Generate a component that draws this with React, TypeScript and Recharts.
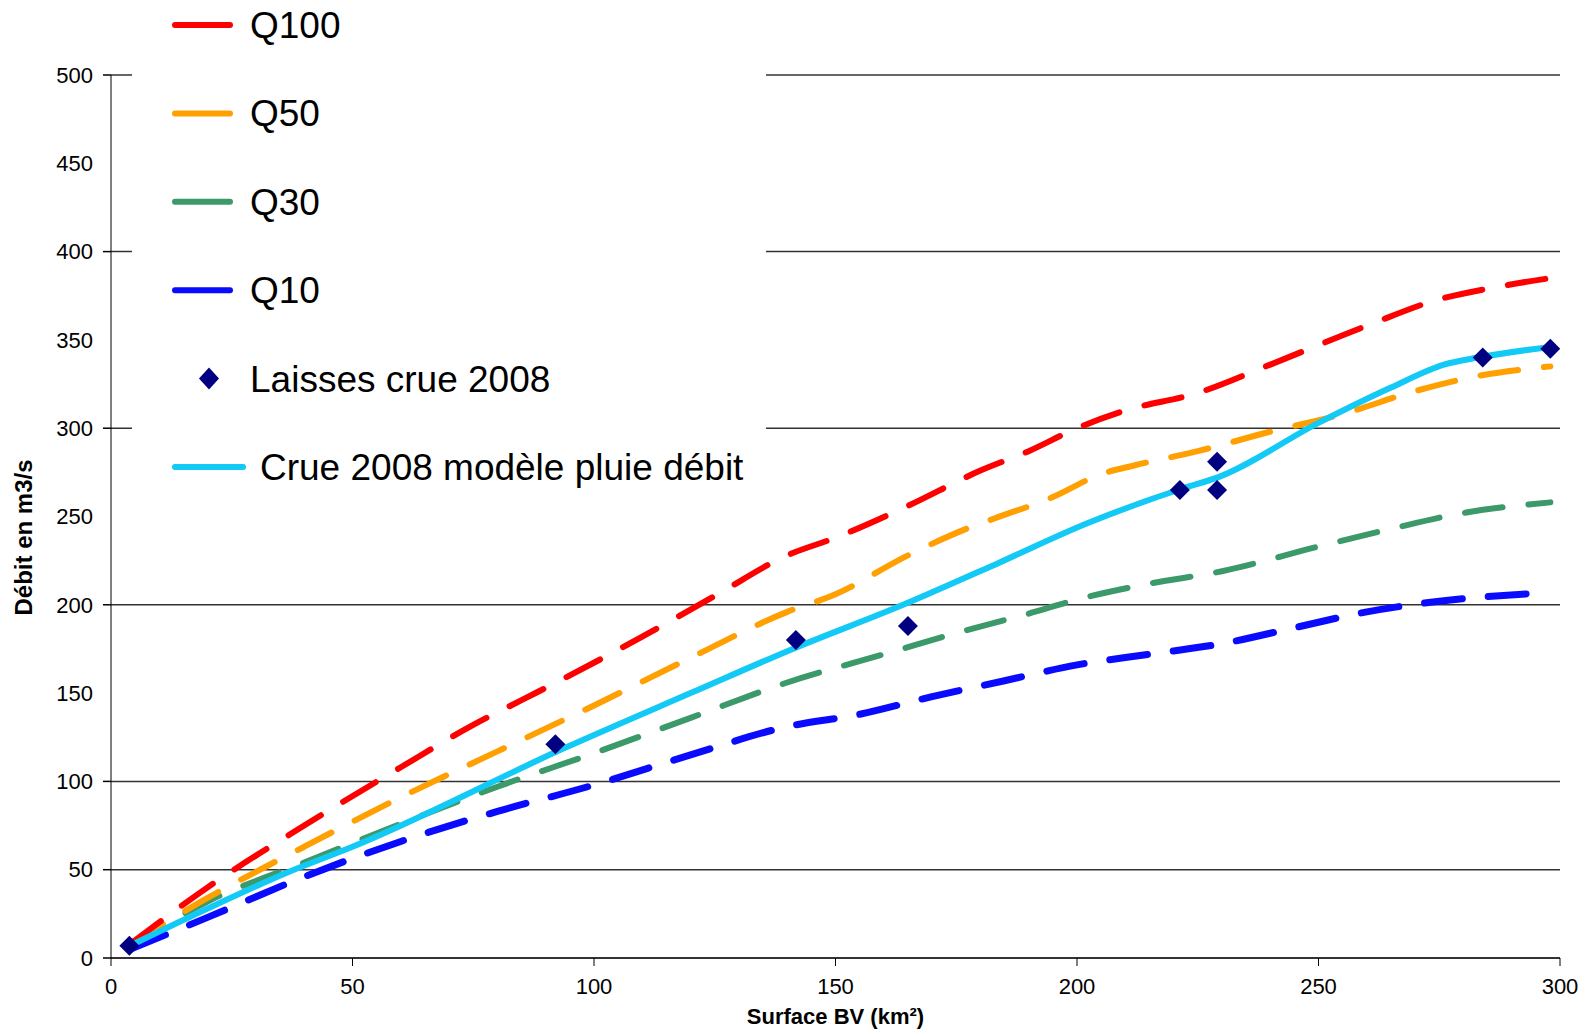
import React from "react"
import { ComposedChart, Line, Scatter, XAxis, YAxis, ReferenceLine, Legend } from "recharts"

type Pt = { x: number; y: number }
const pts = (rows: number[][]): Pt[] => rows.map(([x, y]) => ({ x, y }))

// values (surface km², débit m3/s)
const q100 = pts([
  [4, 8], [20, 40], [40, 75], [60, 108], [75, 132], [85, 146], [95, 160], [110, 182],
  [125, 205], [140, 228], [150, 238], [165, 256], [180, 276], [190, 287], [200, 300],
  [210, 310], [225, 320], [240, 336], [260, 358], [275, 373], [285, 379], [298, 385],
])
const q50 = pts([
  [4, 8], [20, 34], [40, 63], [60, 91], [80, 117], [100, 143], [120, 170], [140, 196],
  [150, 206], [165, 228], [178, 244], [183, 249], [195, 261], [205, 274], [212, 279],
  [225, 287], [240, 298], [255, 308], [270, 321], [282, 329], [298, 335],
])
const q30 = pts([
  [4, 7], [20, 32], [40, 54], [60, 76], [80, 97], [100, 116], [120, 136], [140, 156],
  [160, 172], [175, 184], [190, 195], [200, 203], [215, 212], [230, 219], [250, 233],
  [265, 243], [280, 252], [298, 258],
])
const q10 = pts([
  [4, 5], [20, 23], [40, 46], [60, 66], [80, 83], [100, 98], [120, 115], [140, 131],
  [155, 138], [170, 148], [185, 157], [200, 166], [215, 172], [230, 178], [245, 187],
  [260, 196], [275, 202], [298, 207],
])
const crueModele = pts([
  [4, 7], [20, 28], [37, 49], [50, 63], [94, 119], [120, 150], [142, 176],
  [164, 200], [184, 224], [202, 246], [222, 266], [229, 272], [250, 303],
  [265, 323], [276, 336], [283, 340], [298, 346],
])
const laisses = pts([
  [3.8, 7], [92, 121], [141.8, 180], [165, 188], [221.3, 265], [229, 281], [229, 265],
  [284, 340], [298, 345],
])

const xTicks = [0, 50, 100, 150, 200, 250, 300]
const yTicks = [0, 50, 100, 150, 200, 250, 300, 350, 400, 450, 500]
const gridValues = [0, 50, 100, 200, 300, 400, 500]

const RED = "#ff0000"
const ORANGE = "#ffa000"
const GREEN = "#3c9a6a"
const BLUE = "#0a0aff"
const CYAN = "#13c9f5"
const NAVY = "#000080"

const FONT = "'Liberation Sans', Arial, sans-serif"

const legendItems = [
  { name: "Q100", color: RED, kind: "line" },
  { name: "Q50", color: ORANGE, kind: "line" },
  { name: "Q30", color: GREEN, kind: "line" },
  { name: "Q10", color: BLUE, kind: "line" },
  { name: "Laisses crue 2008", color: NAVY, kind: "diamond" },
  { name: "Crue 2008 modèle pluie débit", color: CYAN, kind: "wide" },
]

function LegendBox() {
  return (
    <svg width={634} height={490} style={{ display: "block" }}>
      {legendItems.map((it, i) => {
        const cy = 25 + i * 88.4
        return (
          <g key={it.name}>
            {it.kind === "diamond" ? (
              <path d={`M77 ${cy - 11} L87 ${cy} L77 ${cy + 11} L67 ${cy} Z`} fill={it.color} />
            ) : (
              <line x1={43} x2={it.kind === "wide" ? 111 : 98} y1={cy} y2={cy}
                stroke={it.color} strokeWidth={6} strokeLinecap="round" />
            )}
            <text x={it.kind === "wide" ? 128 : 118} y={cy + 13} fontSize={37}
              fontFamily={FONT} fill="#000">{it.name}</text>
          </g>
        )
      })}
    </svg>
  )
}

function YTick(props: any) {
  const { x, y, payload } = props
  const ax = x + 18
  return (
    <g>
      {gridValues.includes(payload.value) && (
        <line x1={ax - 8} x2={ax} y1={y} y2={y} stroke="#000" strokeWidth={1.5} />
      )}
      <text x={x} y={y} dy="0.35em" textAnchor="end" fontSize={22} fontFamily={FONT} fill="#000">
        {payload.value}
      </text>
    </g>
  )
}

function YLabel(props: any) {
  const vb = props.viewBox || {}
  const cy = (vb.y ?? 75) + (vb.height ?? 883) / 2 + 21
  return (
    <text x={32} y={cy} transform={`rotate(-90 32 ${cy})`} textAnchor="middle"
      fontSize={24} fontWeight={700} fontFamily={FONT} fill="#000">
      Débit en m3/s
    </text>
  )
}

function Diamond(props: any) {
  const { cx, cy } = props
  return <path d={`M${cx} ${cy - 10} L${cx + 10} ${cy} L${cx} ${cy + 10} L${cx - 10} ${cy} Z`} fill={NAVY} />
}

const dashed = {
  strokeWidth: 6, strokeDasharray: "38 26", strokeLinecap: "round" as const,
  dot: false, isAnimationActive: false, type: "monotone" as const,
}

export default function App() {
  return (
    <div style={{ position: "absolute", left: 0, top: 0, width: 1581, height: 1032, background: "#fff" }}>
      <ComposedChart width={1581} height={1032} margin={{ top: 75, right: 21, left: 0, bottom: 0 }}>
        <XAxis type="number" dataKey="x" domain={[0, 300]} ticks={xTicks} interval={0}
          height={74} tickSize={8} tickMargin={12} stroke="#000" allowDataOverflow
          tick={{ fill: "#000", fontSize: 22, fontFamily: FONT }}
          label={{ value: "Surface  BV (km²)", position: "insideBottom", offset: 8,
            style: { fontSize: 22, fontWeight: 700, fontFamily: FONT, fill: "#000" } }} />
        <YAxis type="number" dataKey="y" domain={[0, 500]} ticks={yTicks} interval={0}
          width={111} tickSize={8} tickMargin={10} tickLine={false} stroke="#000"
          tick={<YTick />} label={<YLabel />} />
        {gridValues.map((v) => (
          <ReferenceLine key={v} y={v} stroke="#333" strokeWidth={1.5} ifOverflow="extendDomain" />
        ))}
        <Line data={q10} dataKey="y" name="Q10" stroke={BLUE} {...dashed} strokeWidth={7} />
        <Line data={q30} dataKey="y" name="Q30" stroke={GREEN} {...dashed} />
        <Line data={q50} dataKey="y" name="Q50" stroke={ORANGE} {...dashed} />
        <Line data={q100} dataKey="y" name="Q100" stroke={RED} {...dashed} />
        <Line data={crueModele} dataKey="y" name="Crue 2008 modèle pluie débit" stroke={CYAN}
          strokeWidth={6} dot={false} type="monotone" isAnimationActive={false} />
        <Scatter data={laisses} dataKey="y" name="Laisses crue 2008" fill={NAVY} shape={<Diamond />}
          legendType="diamond" isAnimationActive={false} />
        <Legend layout="horizontal" verticalAlign="middle" align="center" content={() => <LegendBox />}
          wrapperStyle={{ position: "absolute", left: 132, top: 0, width: 634, height: 490, background: "#fff" }} />
      </ComposedChart>
    </div>
  )
}
